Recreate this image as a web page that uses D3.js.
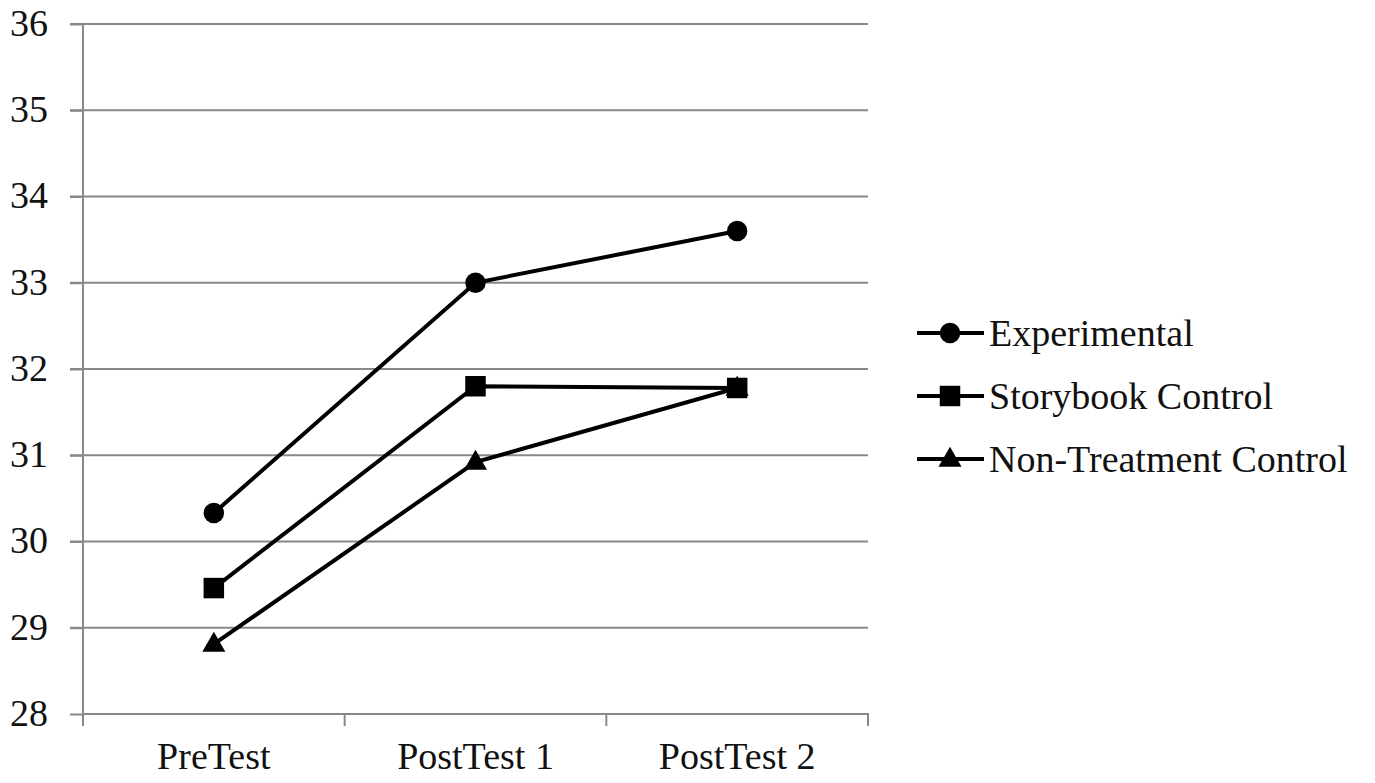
<!DOCTYPE html>
<html><head><meta charset="utf-8">
<script src="https://cdn.jsdelivr.net/npm/d3@7"></script>
<style>body{margin:0;background:#fff}svg{display:block}svg text{font-family:'Liberation Serif','Times New Roman',serif}</style>
</head><body>
<svg id="c" width="1375" height="783"></svg>
<script>
const categories = ["PreTest", "PostTest 1", "PostTest 2"];
const seriesNames = ["Experimental", "Storybook Control", "Non-Treatment Control"];
const experimental = [30.33, 33.0, 33.6];
const storybook = [29.46, 31.8, 31.78];
const nonTreatment = [28.81, 30.92, 31.78];
const yTicks = [28, 29, 30, 31, 32, 33, 34, 35, 36];
const symbolsUsed = ["circle", "square", "triangle"];

const series = [
  {name: seriesNames[0], values: experimental, sym: symbolsUsed[0]},
  {name: seriesNames[1], values: storybook, sym: symbolsUsed[1]},
  {name: seriesNames[2], values: nonTreatment, sym: symbolsUsed[2]}
];

const svg = d3.select("#c");
const L = 83, R = 868, T = 24, B = 714;
const font = "'Liberation Serif','Times New Roman',serif";
const fs = 38;
const x = d3.scaleBand().domain(categories).range([L, R]);
const cx = c => x(c) + x.bandwidth() / 2;
const y = d3.scaleLinear().domain([28, 36]).range([B, T]);
const grid = "#888";

// gridlines
svg.append("g").selectAll("line").data(yTicks.filter(t => t !== 28)).join("line")
  .attr("x1", L - 13).attr("x2", R).attr("y1", d => y(d)).attr("y2", d => y(d))
  .attr("stroke", grid).attr("stroke-width", 2);

// y axis
const ya = svg.append("g").attr("transform", `translate(${L},0)`)
  .call(d3.axisLeft(y).tickValues(yTicks).tickSize(13).tickPadding(22).tickFormat(d3.format("d")));
ya.attr("font-family", font).attr("font-size", fs);
ya.select(".domain").attr("stroke", grid).attr("stroke-width", 2).attr("d", `M0,${T}V${B}`);
ya.selectAll(".tick line").attr("stroke", grid).attr("stroke-width", 2);
ya.selectAll("text").attr("fill", "#111").attr("dy", "0.3em");

// x axis
const xa = svg.append("g").attr("transform", `translate(0,${B})`)
  .call(d3.axisBottom(x).tickSize(0).tickPadding(28));
xa.attr("font-family", font).attr("font-size", fs);
xa.select(".domain").attr("stroke", grid).attr("stroke-width", 2).attr("d", `M${L},12V0H${R}V12`);
xa.selectAll("text").attr("fill", "#111").attr("dy", "0.71em");
const bounds = [...categories.map(c => x(c)), R];
xa.selectAll(".bt").data(bounds).join("line").attr("class", "bt")
  .attr("x1", d => d).attr("x2", d => d).attr("y1", 0).attr("y2", 12)
  .attr("stroke", grid).attr("stroke-width", 2);

const symType = {circle: d3.symbolCircle, square: d3.symbolSquare, triangle: d3.symbolTriangle};
const symSize = {circle: 330, square: 420, triangle: 230};
const line = d3.line().x((d, i) => cx(categories[i])).y(d => y(d));

series.forEach(s => {
  svg.append("path").attr("d", line(s.values)).attr("fill", "none")
    .attr("stroke", "#000").attr("stroke-width", 4);
  svg.append("g").selectAll("path").data(s.values).join("path")
    .attr("transform", (d, i) => `translate(${cx(categories[i])},${y(d) + (s.sym === "triangle" ? 1 : 0)})`)
    .attr("d", d3.symbol().type(symType[s.sym]).size(symSize[s.sym])).attr("fill", "#000");
});

// legend
const lg = svg.append("g").attr("font-family", font).attr("font-size", fs);
series.forEach((s, i) => {
  const ly = 333 + i * 63;
  lg.append("line").attr("x1", 917).attr("x2", 984).attr("y1", ly).attr("y2", ly)
    .attr("stroke", "#000").attr("stroke-width", 4);
  lg.append("path").attr("transform", `translate(950,${ly + (s.sym === "triangle" ? 1 : 0)})`)
    .attr("d", d3.symbol().type(symType[s.sym]).size(symSize[s.sym])).attr("fill", "#000");
  lg.append("text").attr("x", 989).attr("y", ly).attr("dy", "0.33em")
    .attr("fill", "#111").text(s.name);
});
</script>
</body></html>
